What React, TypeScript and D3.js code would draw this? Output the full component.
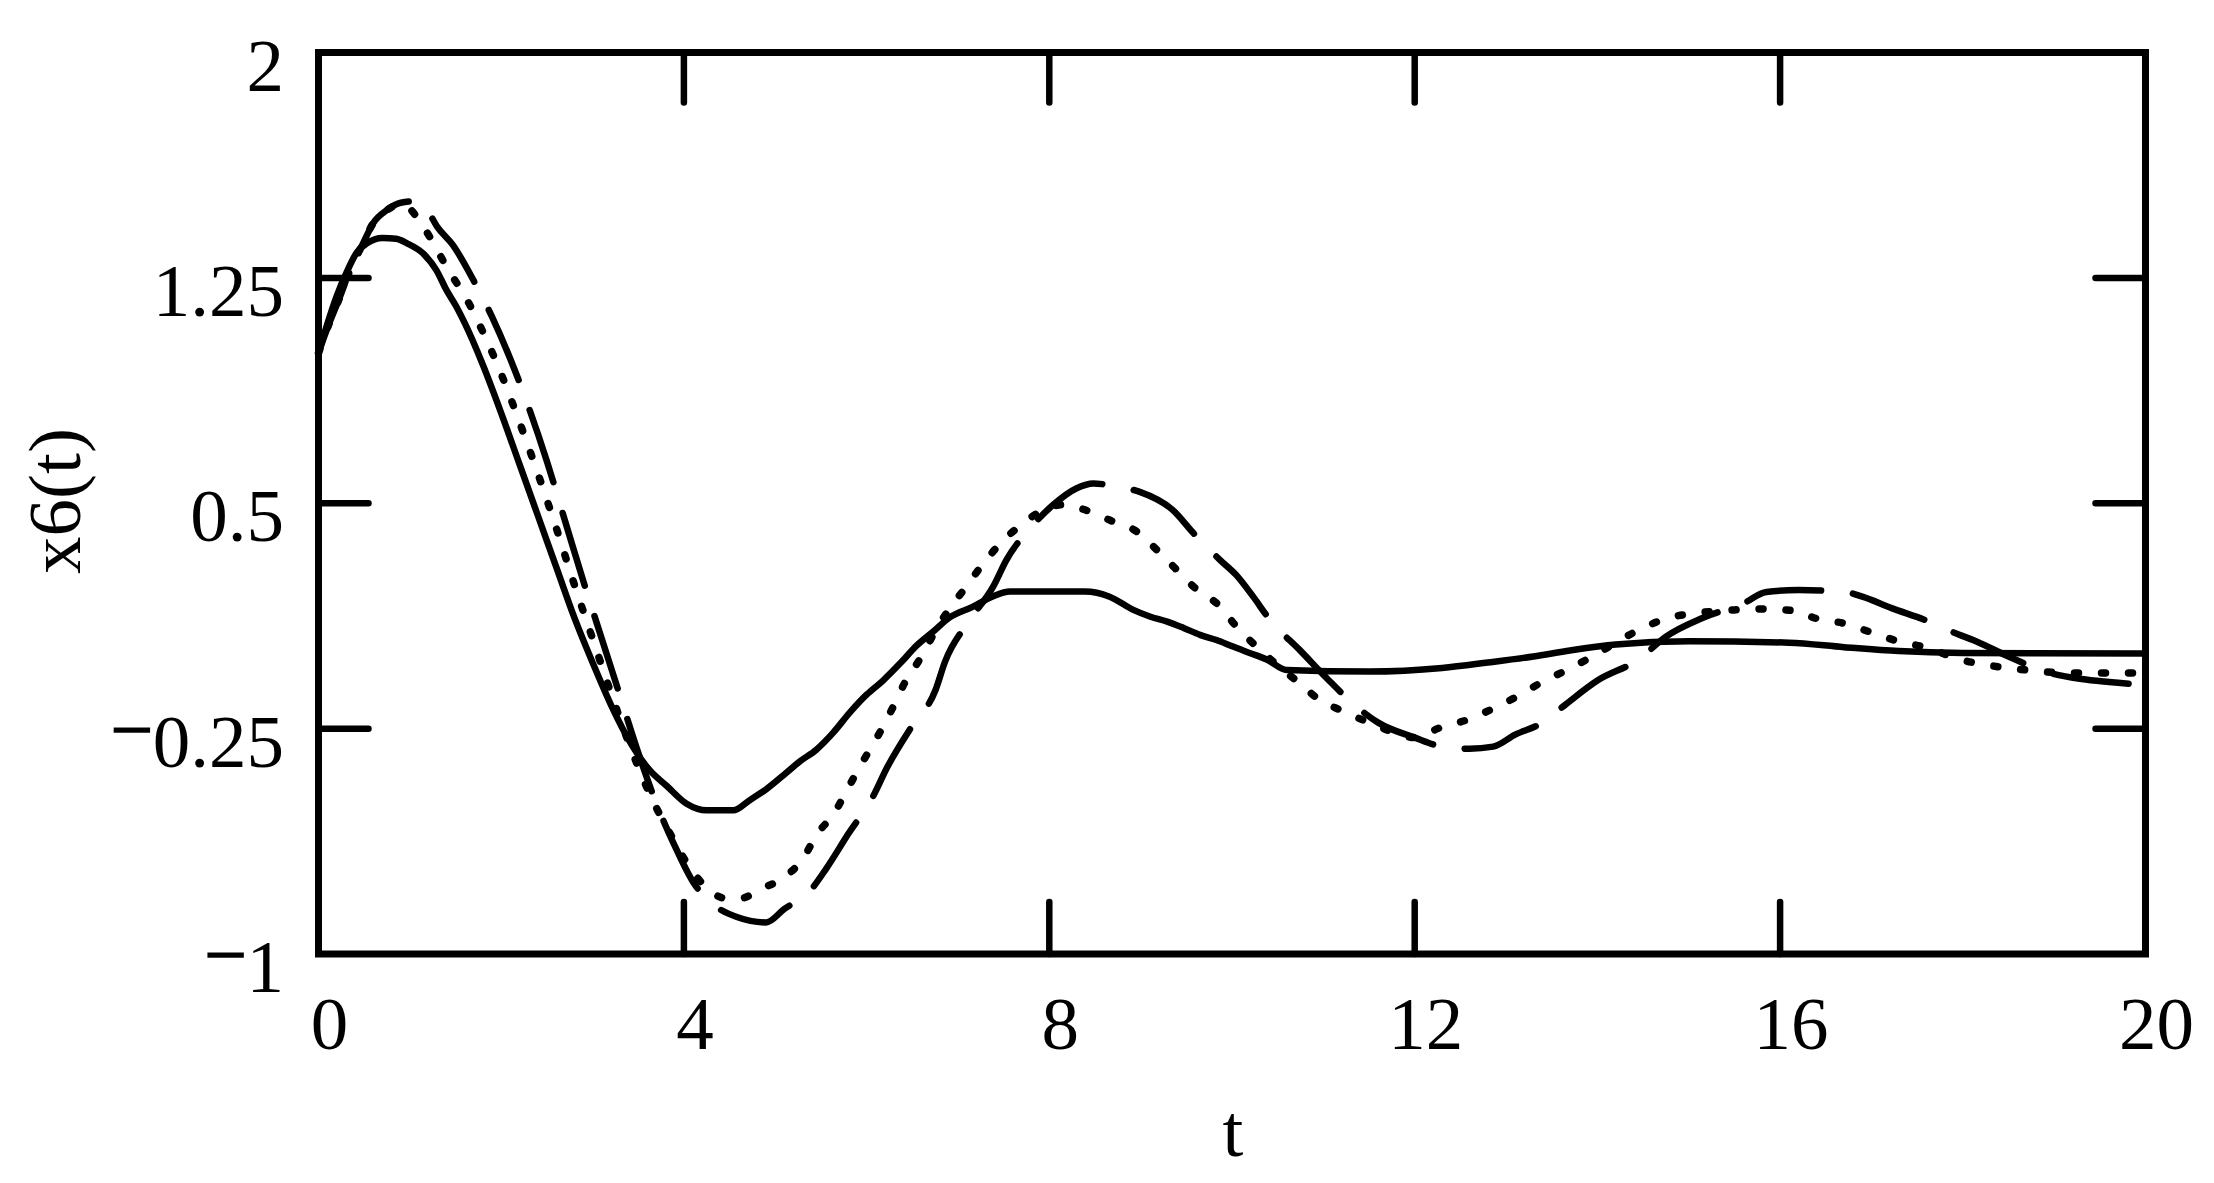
import React from "react";
import * as d3 from "d3";

// ---- data (t, x6(t)) ----
const xTicks = [0, 4, 8, 12, 16, 20];
const xTickLabels = ["0", "4", "8", "12", "16", "20"];
const yTicks = [-1, -0.25, 0.5, 1.25, 2];
const yTickLabels = ["−1", "−0.25", "0.5", "1.25", "2"];

const seriesSolid: [number, number][] = [
  [0, 1.0], [0.1, 1.1], [0.2, 1.19], [0.31, 1.27], [0.42, 1.335], [0.53, 1.365],
  [0.7, 1.383], [0.85, 1.38], [0.97, 1.365], [1.15, 1.33], [1.29, 1.276], [1.4, 1.21],
  [1.51, 1.154], [1.6, 1.1], [1.8, 0.96], [2.0, 0.8], [2.2, 0.63], [2.4, 0.46],
  [2.6, 0.29], [2.8, 0.12], [3.0, -0.03], [3.2, -0.17], [3.44, -0.31], [3.63, -0.39],
  [3.81, -0.44], [4.03, -0.5], [4.25, -0.522], [4.54, -0.522], [4.72, -0.488],
  [4.9, -0.452], [5.09, -0.405], [5.27, -0.359], [5.45, -0.32], [5.63, -0.265],
  [5.82, -0.195], [6.0, -0.137], [6.18, -0.09], [6.37, -0.032], [6.55, 0.027],
  [6.73, 0.073], [6.91, 0.12], [7.16, 0.155], [7.38, 0.19], [7.57, 0.206],
  [8.39, 0.206], [8.66, 0.189], [8.92, 0.145], [9.1, 0.123], [9.29, 0.106],
  [9.47, 0.085], [9.65, 0.062], [9.83, 0.045], [10.01, 0.023], [10.2, 0.001],
  [10.38, -0.02], [10.6, -0.055], [11.5, -0.06], [12.3, -0.048], [12.8, -0.03],
  [13.3, -0.01], [13.7, 0.01], [14.2, 0.03], [15.0, 0.041], [16.1, 0.036],
  [16.7, 0.021], [17.3, 0.008], [18.0, 0.002], [20, 0.0],
];

const seriesDotted: [number, number][] = [
  [0, 1.0], [0.09, 1.077], [0.235, 1.187], [0.345, 1.276], [0.49, 1.366], [0.6, 1.433],
  [0.75, 1.476], [0.9, 1.495], [1.0, 1.48], [1.11, 1.437], [1.25, 1.37], [1.4, 1.287],
  [1.62, 1.18], [1.8, 1.07], [2.0, 0.93], [2.2, 0.77], [2.4, 0.6], [2.6, 0.42],
  [2.8, 0.23], [3.0, 0.05], [3.2, -0.13], [3.4, -0.3], [3.63, -0.47], [3.85, -0.6],
  [4.06, -0.71], [4.25, -0.78], [4.45, -0.814], [4.63, -0.814], [4.83, -0.785],
  [5.1, -0.744], [5.31, -0.68], [5.45, -0.604], [5.64, -0.534], [5.8, -0.446],
  [5.96, -0.359], [6.13, -0.271], [6.29, -0.178], [6.42, -0.096], [6.58, -0.02],
  [6.8, 0.1], [7.08, 0.219], [7.28, 0.3], [7.46, 0.365], [7.7, 0.43], [7.95, 0.48],
  [8.15, 0.495], [8.37, 0.48], [8.66, 0.444], [8.96, 0.405], [9.18, 0.344],
  [9.38, 0.283], [9.58, 0.222], [9.87, 0.156], [10.05, 0.089], [10.23, 0.034],
  [10.5, -0.04], [10.74, -0.099], [10.96, -0.155], [11.2, -0.19], [11.5, -0.23],
  [11.8, -0.265], [12.0, -0.28], [12.26, -0.249], [12.58, -0.22], [12.88, -0.18],
  [13.15, -0.138], [13.4, -0.094], [13.7, -0.05], [14.0, 0.0], [14.4, 0.07],
  [14.76, 0.117], [15.1, 0.135], [15.5, 0.145], [15.85, 0.148], [16.2, 0.14],
  [16.36, 0.12], [16.7, 0.1], [17.0, 0.07], [17.3, 0.04], [17.6, 0.02],
  [17.97, -0.02], [18.3, -0.04], [18.7, -0.055], [19.2, -0.065], [19.7, -0.065],
  [20, -0.065],
];

const seriesDashed: [number, number][] = [
  [0, 1.0], [0.09, 1.077], [0.235, 1.187], [0.345, 1.276], [0.49, 1.366], [0.6, 1.433],
  [0.75, 1.476], [0.9, 1.5], [1.07, 1.505], [1.18, 1.48], [1.3, 1.42], [1.47, 1.36],
  [1.7, 1.24], [1.9, 1.12], [2.1, 0.98], [2.3, 0.82], [2.5, 0.64], [2.7, 0.44],
  [2.9, 0.24], [3.1, 0.05], [3.3, -0.14], [3.5, -0.33], [3.7, -0.5], [3.9, -0.64],
  [4.1, -0.76], [4.3, -0.83], [4.58, -0.877], [4.9, -0.895], [5.1, -0.85],
  [5.38, -0.79], [5.56, -0.715], [5.8, -0.6], [6.07, -0.476], [6.22, -0.382],
  [6.5, -0.24], [6.75, -0.125], [6.86, -0.026], [7.1, 0.1], [7.39, 0.225],
  [7.53, 0.311], [7.8, 0.42], [8.04, 0.494], [8.3, 0.55], [8.48, 0.566],
  [8.74, 0.555], [8.99, 0.538], [9.35, 0.478], [9.58, 0.4], [9.87, 0.311],
  [10.05, 0.26], [10.23, 0.19], [10.42, 0.11], [10.74, 0.012], [11.04, -0.083],
  [11.3, -0.16], [11.6, -0.23], [12.0, -0.28], [12.3, -0.31], [12.6, -0.317],
  [12.86, -0.31], [13.1, -0.27], [13.4, -0.23], [13.65, -0.17], [14.0, -0.09],
  [14.45, -0.02], [14.75, 0.056], [15.15, 0.118], [15.6, 0.167], [15.85, 0.205],
  [16.2, 0.211], [16.7, 0.205], [16.9, 0.189], [17.22, 0.151], [17.6, 0.11],
  [17.9, 0.07], [18.15, 0.04], [18.5, -0.01], [18.9, -0.06], [19.3, -0.085],
  [19.6, -0.095], [20, -0.105],
];

const W = 2214;
const H = 1183;
const FONT = "'Liberation Serif', 'Times New Roman', 'DejaVu Serif', serif";

export default function App() {
  const x = d3.scaleLinear().domain([0, 20]).range([318.5, 2145.5]);
  const y = d3.scaleLinear().domain([-1, 2]).range([954, 52.5]);
  const line = d3
    .line<[number, number]>()
    .x((d) => x(d[0]))
    .y((d) => y(d[1]))
    .curve(d3.curveMonotoneX);

  const tickLen = 50;
  const fs = 75;

  return (
    <svg
      width={W}
      height={H}
      viewBox={`0 0 ${W} ${H}`}
      style={{ position: "absolute", left: 0, top: 0, display: "block", background: "#fff" }}
    >
      <rect x={0} y={0} width={W} height={H} fill="#fff" />
      {/* curves */}
      <g fill="none" stroke="#000" strokeLinecap="round" strokeLinejoin="round">
        <path d={line(seriesSolid) || ""} strokeWidth={6.5} />
        <path d={line(seriesDotted) || ""} strokeWidth={7.5} strokeDasharray="4 23" />
        <path d={line(seriesDashed) || ""} strokeWidth={6.5} strokeDasharray="76 32" />
      </g>
      {/* ticks */}
      <g stroke="#000" strokeWidth={6.5} strokeLinecap="round">
        {yTicks
          .filter((v) => v > -1 && v < 2)
          .map((v) => (
            <g key={"yt" + v}>
              <line x1={x(0)} x2={x(0) + tickLen} y1={y(v)} y2={y(v)} />
              <line x1={x(20)} x2={x(20) - tickLen} y1={y(v)} y2={y(v)} />
            </g>
          ))}
        {xTicks
          .filter((t) => t > 0 && t < 20)
          .map((t) => (
            <g key={"xt" + t}>
              <line x1={x(t)} x2={x(t)} y1={y(-1)} y2={y(-1) - tickLen - 2} />
              <line x1={x(t)} x2={x(t)} y1={y(2)} y2={y(2) + tickLen} />
            </g>
          ))}
      </g>
      {/* frame */}
      <rect
        x={x(0)}
        y={y(2)}
        width={x(20) - x(0)}
        height={y(-1) - y(2)}
        fill="none"
        stroke="#000"
        strokeWidth={7}
      />
      {/* x tick labels */}
      <g fontFamily={FONT} fontSize={fs} fill="#000" textAnchor="middle">
        {xTicks.map((t, i) => (
          <text key={"xl" + t} x={x(t) + 11} y={1049}>
            {xTickLabels[i]}
          </text>
        ))}
      </g>
      {/* y tick labels */}
      <g fontFamily={FONT} fontSize={fs} fill="#000" textAnchor="end">
        {yTicks.map((v, i) => {
          const lab = yTickLabels[i];
          const neg = lab.startsWith("−");
          return (
            <text key={"yl" + v} x={284} y={y(v) + 38}>
              {neg ? (
                <>
                  <tspan dy={-12} stroke="#000" strokeWidth={1.5}>−</tspan>
                  <tspan dy={12}>{lab.slice(1)}</tspan>
                </>
              ) : (
                lab
              )}
            </text>
          );
        })}
      </g>
      {/* axis titles */}
      <text
        x={1233}
        y={1156}
        fontFamily={FONT}
        fontSize={fs}
        textAnchor="middle"
        fill="#000"
      >
        t
      </text>
      <text
        transform="translate(80,501) rotate(-90)"
        fontFamily={FONT}
        fontSize={fs}
        textAnchor="middle"
        fill="#000"
      >
        x6(t)
      </text>
    </svg>
  );
}
